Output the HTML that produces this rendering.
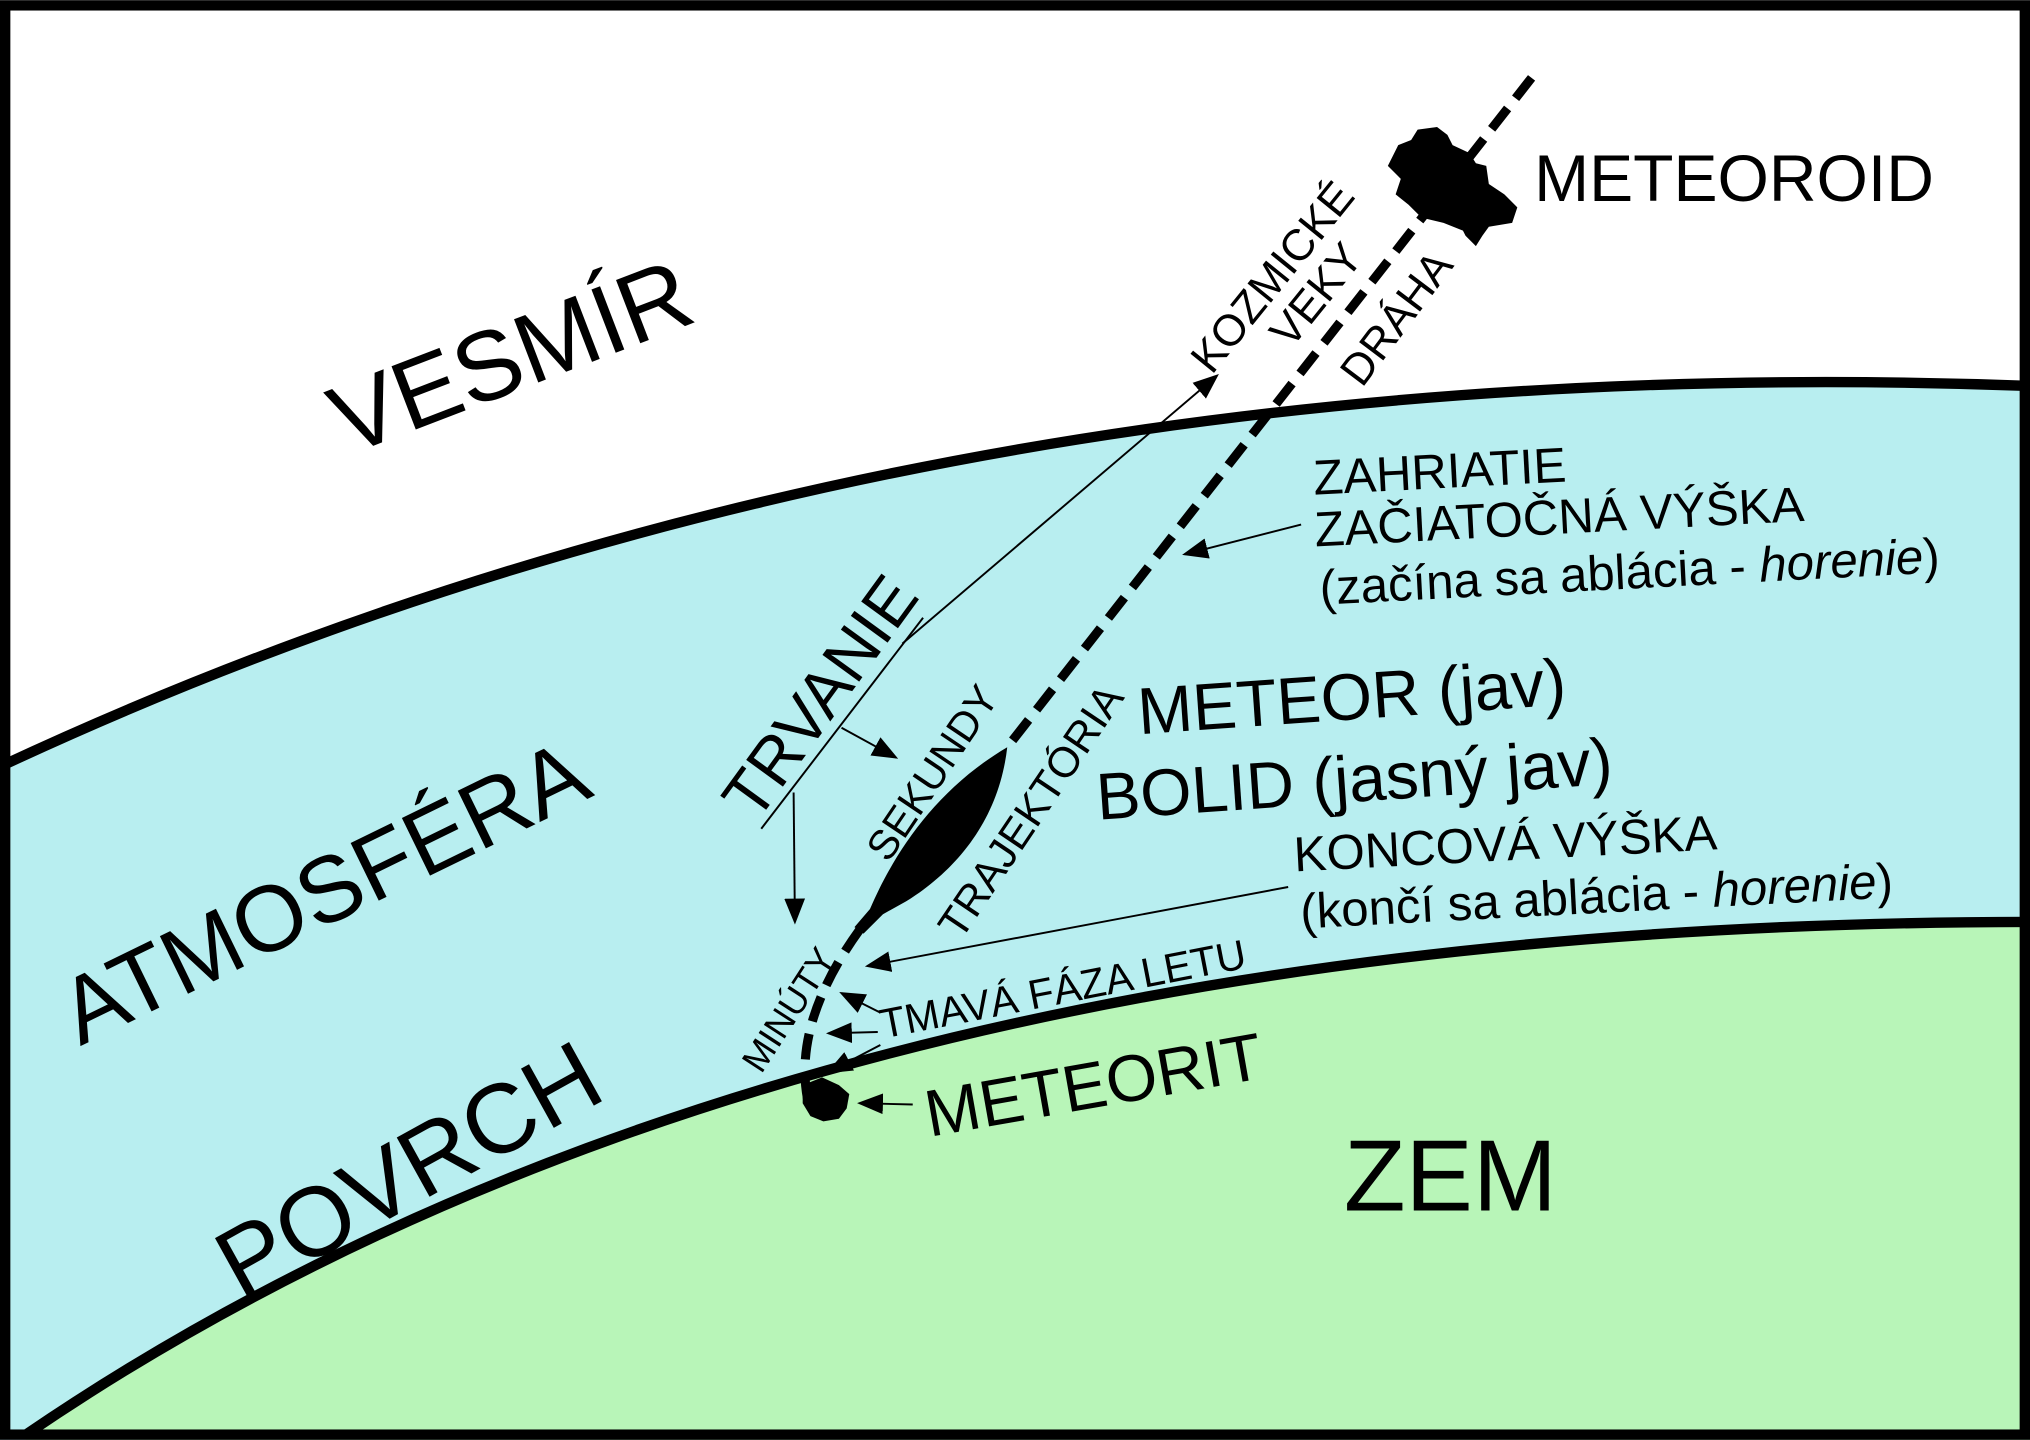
<!DOCTYPE html>
<html><head><meta charset="utf-8"><style>
html,body{margin:0;padding:0;background:#fff;}
svg{display:block;}
text{font-family:"Liberation Sans",sans-serif;fill:#000;}
</style></head><body>
<svg width="2030" height="1440" viewBox="0 0 1568 1112" xmlns="http://www.w3.org/2000/svg">
<defs>
<marker id="b" viewBox="0 0 10 10" refX="9" refY="5" markerWidth="20" markerHeight="16" orient="auto" markerUnits="userSpaceOnUse" preserveAspectRatio="none">
<path d="M0,0 L10,5 L0,10 Z" fill="#000"/></marker>
</defs>
<rect x="0" y="0" width="1568" height="1112" fill="#fff"/>
<path d="M0,592 Q700,265 1568,298 L1568,1112 L0,1112 Z" fill="#b8eef0"/>
<path d="M20,1108 Q600,712 1568,712 L1568,1112 L20,1112 Z" fill="#b8f5b8"/>
<path d="M0,592 Q700,265 1568,298" fill="none" stroke="#000" stroke-width="8"/>
<path d="M20,1108 Q600,712 1568,712" fill="none" stroke="#000" stroke-width="8"/>
<rect x="4" y="4" width="1560" height="1104" fill="none" stroke="#000" stroke-width="8"/>

<line x1="1183" y1="60" x2="778" y2="577" stroke="#000" stroke-width="7" stroke-dasharray="20 10"/>
<path d="M778,577 C772,630 742,670 700,696 L682,706 L667,721 L660,716 L672,702 C690,660 722,610 778,577 Z" fill="#000"/>
<path d="M664,718 Q612,790 624,850" fill="none" stroke="#000" stroke-width="7" stroke-dasharray="20 10"/>
<path d="M1080,112 L1090,108 L1095,100 L1110,98 L1118,104 L1122,112 L1135,118 L1140,126 L1148,128 L1150,142 L1162,150 L1172,160 L1168,172 L1150,175 L1145,182 L1140,190 L1132,182 L1130,178 L1115,172 L1098,168 L1088,158 L1078,150 L1082,138 L1072,128 Z" fill="#000"/>
<path d="M620,838 L635,832 L648,838 L656,845 L654,856 L648,864 L636,866 L626,862 L620,852 Z" fill="#000"/>

<line x1="697" y1="497" x2="940" y2="290" stroke="#000" stroke-width="1.5" marker-end="url(#b)"/>
<line x1="1005" y1="405" x2="915" y2="428" stroke="#000" stroke-width="1.5" marker-end="url(#b)"/>
<line x1="995" y1="685" x2="670" y2="746" stroke="#000" stroke-width="1.5" marker-end="url(#b)"/>
<line x1="650" y1="562" x2="692" y2="585" stroke="#000" stroke-width="1.5" marker-end="url(#b)"/>
<line x1="613" y1="612" x2="614" y2="712" stroke="#000" stroke-width="1.5" marker-end="url(#b)"/>
<line x1="680" y1="782" x2="650" y2="767" stroke="#000" stroke-width="1.5" marker-end="url(#b)"/>
<line x1="678" y1="797" x2="640" y2="798" stroke="#000" stroke-width="1.5" marker-end="url(#b)"/>
<line x1="680" y1="807" x2="640" y2="828" stroke="#000" stroke-width="1.5" marker-end="url(#b)"/>
<line x1="705" y1="853" x2="664" y2="852" stroke="#000" stroke-width="1.5" marker-end="url(#b)"/>
<line x1="588" y1="640" x2="713" y2="477" stroke="#000" stroke-width="1.5"/>

<text font-size="76" transform="translate(268,352) rotate(-21)">VESMÍR</text>
<text font-size="72" transform="translate(62,808) rotate(-26)">ATMOSFÉRA</text>
<text font-size="76" transform="translate(186,1005) rotate(-29)">POVRCH</text>
<text x="1038" y="935" font-size="78">ZEM</text>
<text x="1185" y="155" font-size="51">METEOROID</text>
<text font-size="51" transform="translate(880,567) rotate(-4)">METEOR (jav)</text>
<text font-size="51" transform="translate(848,633) rotate(-4)">BOLID (jasný jav)</text>
<text font-size="38" transform="translate(1000,673) rotate(-3)">KONCOVÁ VÝŠKA</text>
<text font-size="38" transform="translate(1005,717) rotate(-3)">(končí sa ablácia - <tspan font-style="italic">horenie</tspan>)</text>
<text font-size="38" transform="translate(1015,382) rotate(-3)">ZAHRIATIE</text>
<text font-size="38" transform="translate(1016,422) rotate(-3)">ZAČIATOČNÁ VÝŠKA</text>
<text font-size="38" transform="translate(1020,467) rotate(-3)">(začína sa ablácia - <tspan font-style="italic">horenie</tspan>)</text>
<text font-size="51" transform="translate(718,878) rotate(-10)">METEORIT</text>
<text font-size="32" transform="translate(682,802) rotate(-11)">TMAVÁ FÁZA LETU</text>
<text font-size="51" transform="translate(584,636) rotate(-54)">TRVANIE</text>
<text font-size="32" transform="translate(686,667) rotate(-56)">SEKUNDY</text>
<text font-size="28" transform="translate(588,830) rotate(-57)">MINÚTY</text>
<text font-size="33" transform="translate(742,727) rotate(-56)">TRAJEKTÓRIA</text>
<text font-size="34" transform="translate(936,290) rotate(-51)">KOZMICKÉ</text>
<text font-size="34" transform="translate(997,270) rotate(-51)">VEKY</text>
<text font-size="34" transform="translate(1052,300) rotate(-53)">DRÁHA</text>
</svg>
</body></html>
